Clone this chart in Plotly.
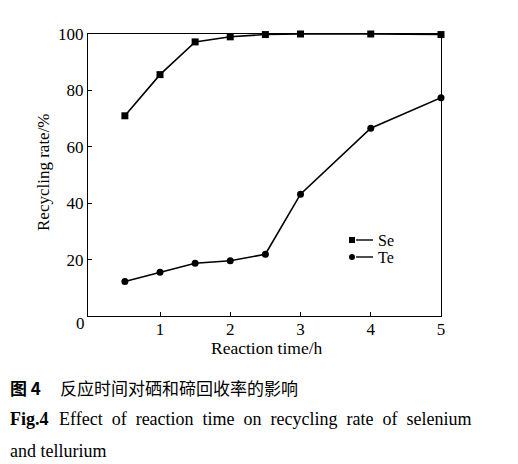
import plotly.graph_objects as go

time_h = [0.5, 1, 1.5, 2, 2.5, 3, 4, 5]
se_rate = [71.0, 85.6, 97.2, 99.0, 99.8, 100.0, 100.0, 99.8]
te_rate = [12.2, 15.5, 18.7, 19.6, 21.9, 43.2, 66.6, 77.4]
x_ticks = [1, 2, 3, 4, 5]
y_ticks = [20, 40, 60, 80, 100]

OFF = 8  # page body margin
W, H = 518 - OFF, 464 - OFF
L, R, T, B = 88, 441, 34, 316
FONT = "Liberation Serif"

fig = go.Figure()
line = dict(color="black", width=1.6)
fig.add_trace(go.Scatter(x=time_h, y=se_rate, mode="lines+markers", name="Se",
                         line=line, marker=dict(symbol="square", size=7, color="black"),
                         cliponaxis=False))
fig.add_trace(go.Scatter(x=time_h, y=te_rate, mode="lines+markers", name="Te",
                         line=line, marker=dict(symbol="circle", size=7, color="black"),
                         cliponaxis=False))

def px(x):
    return (x - OFF) / W

def py(y):
    return 1 - (y - OFF) / H

fig.update_layout(
    width=W, height=H,
    margin=dict(l=0, r=0, t=0, b=0, pad=0),
    paper_bgcolor="white", plot_bgcolor="white",
    showlegend=False,
    font=dict(family=FONT, size=16, color="black"),
    xaxis=dict(domain=[px(L), px(R)], range=[-0.025, 5], tickvals=x_ticks,
               ticks="inside", ticklen=4, tickcolor="black", showgrid=False,
               zeroline=False, showline=True, linecolor="black", linewidth=1.2,
               mirror=True, tickfont=dict(family=FONT, size=17), automargin=False,
               ticklabelstandoff=-3),
    yaxis=dict(domain=[py(B), py(T)], range=[0, 100], tickvals=y_ticks,
               ticks="inside", ticklen=4, tickcolor="black", showgrid=False,
               zeroline=False, showline=True, linecolor="black", linewidth=1.2,
               mirror=True, tickfont=dict(family=FONT, size=17), automargin=False),
)

def note(x, y, text, anchor="center", size=17, family=FONT, angle=0):
    return dict(x=px(x), y=py(y), xref="paper", yref="paper", text=text,
                showarrow=False, xanchor=anchor, yanchor="middle", textangle=angle,
                font=dict(family=family, size=size, color="black"))

ann = []
ann.append(note(80, 323, "0"))
ann.append(note(267, 348, "Reaction time/h", size=17.5))
ann.append(note(43, 172, "Recycling rate/%", angle=-90))
shapes = []
for i, (name, sym) in enumerate([("Se", "rect"), ("Te", "circle")]):
    yc = 240 + i * 17
    ann.append(note(376, yc, name, anchor="left", size=16))
    shapes.append(dict(type=sym, xref="paper", yref="paper",
                       x0=px(349), x1=px(355), y0=py(yc + 3), y1=py(yc - 3),
                       fillcolor="black", line=dict(color="black", width=0)))
    shapes.append(dict(type="line", xref="paper", yref="paper",
                       x0=px(356), x1=px(373), y0=py(yc), y1=py(yc),
                       line=dict(color="black", width=1.4)))

# caption
CJK = "Noto Sans CJK SC"
ann.append(note(8, 387, "<b>图 4</b>", anchor="left", size=17, family=CJK))
ann.append(note(58, 387, "反应时间对硒和碲回收率的影响", anchor="left", size=17, family=CJK))
ann.append(note(8, 419, "<b>Fig.4</b>", anchor="left", size=18))
ann.append(note(474, 419, "Effect  of  reaction  time  on  recycling  rate  of  selenium",
                anchor="right", size=18))
ann.append(note(8, 451, "and tellurium", anchor="left", size=18))

fig.update_layout(annotations=ann, shapes=shapes)
fig.write_html("out.html")
